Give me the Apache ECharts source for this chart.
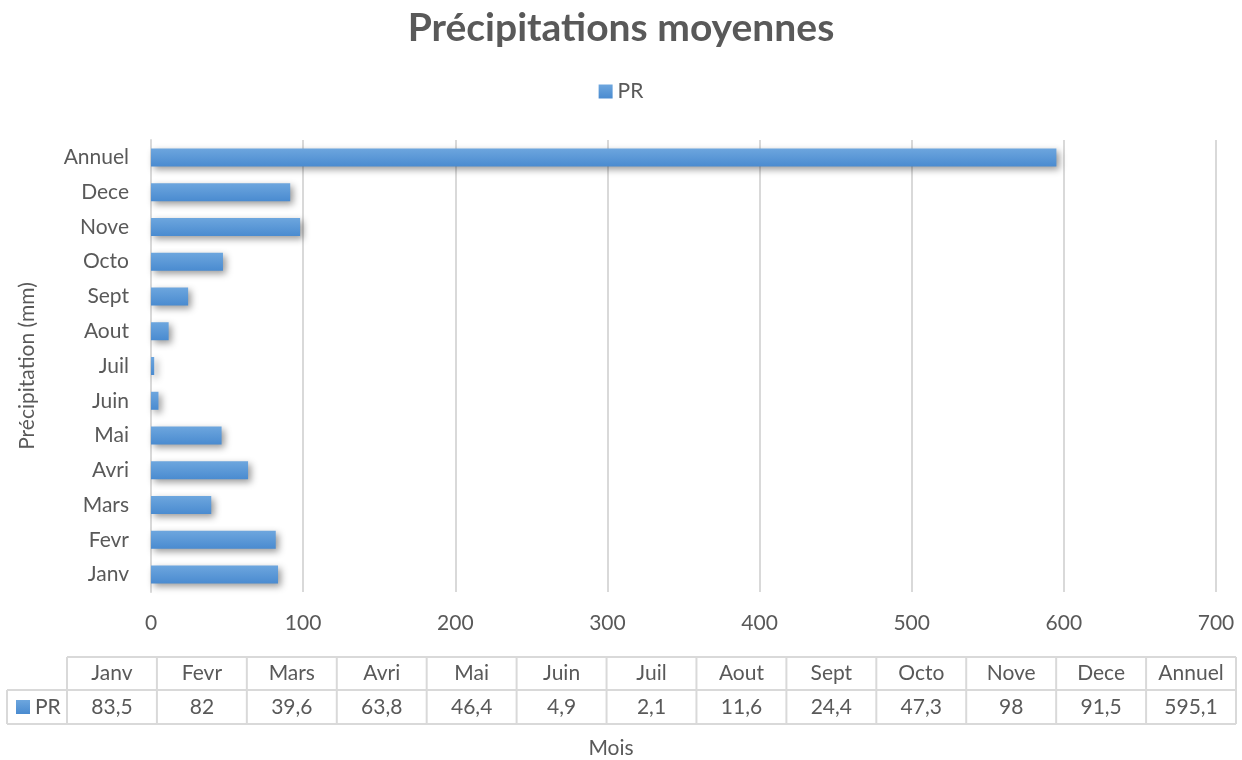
<!DOCTYPE html>
<html><head><meta charset="utf-8">
<script src="https://cdn.jsdelivr.net/npm/echarts@6/dist/echarts.min.js"></script>
<style>html,body{margin:0;padding:0;background:#fff}#c{width:1242px;height:760px}</style>
</head><body><div id="c"></div>
<script>
const categories = ['Janv','Fevr','Mars','Avri','Mai','Juin','Juil','Aout','Sept','Octo','Nove','Dece','Annuel'];
const prValues = [83.5, 82, 39.6, 63.8, 46.4, 4.9, 2.1, 11.6, 24.4, 47.3, 98, 91.5, 595.1];
const seriesName = 'PR';
const xTicks = [0,100,200,300,400,500,600,700];

const FONT = 'Lato, "Open Sans", sans-serif';
const FS = 21;
const TXT = '#595959';
const LINE = '#d9d9d9';
const barGrad = new echarts.graphic.LinearGradient(0,0,0,1,[{offset:0,color:'#6da6de'},{offset:1,color:'#4a8bd0'}]);

const chart = echarts.init(document.getElementById('c'));

// data table under the chart
const tblLeft = 67, tblRight = 1236, row1Top = 657, row1Bot = 690, row2Bot = 724, lblLeft = 7;
const colW = (tblRight - tblLeft) / categories.length;
const fmt = v => String(v).replace('.', ',');
const g = [];
g.push({type:'line', shape:{x1:tblLeft,y1:row1Top,x2:tblRight,y2:row1Top}, style:{stroke:LINE,lineWidth:2}});
g.push({type:'line', shape:{x1:lblLeft,y1:row1Bot,x2:tblRight,y2:row1Bot}, style:{stroke:LINE,lineWidth:2}});
g.push({type:'line', shape:{x1:lblLeft,y1:row2Bot,x2:tblRight,y2:row2Bot}, style:{stroke:LINE,lineWidth:2}});
g.push({type:'line', shape:{x1:lblLeft,y1:row1Bot,x2:lblLeft,y2:row2Bot}, style:{stroke:LINE,lineWidth:2}});
for (let i = 0; i <= categories.length; i++) {
  const x = tblLeft + i * colW;
  g.push({type:'line', shape:{x1:x,y1:row1Top,x2:x,y2:row2Bot}, style:{stroke:LINE,lineWidth:2}});
}
categories.forEach((c, i) => {
  const cx = tblLeft + (i + 0.5) * colW;
  g.push({type:'text', x:cx, y:(row1Top+row1Bot)/2, style:{text:c, font:FS+'px '+FONT, fill:TXT, textAlign:'center', textVerticalAlign:'middle'}});
  g.push({type:'text', x:cx, y:(row1Bot+row2Bot)/2, style:{text:fmt(prValues[i]), font:FS+'px '+FONT, fill:TXT, textAlign:'center', textVerticalAlign:'middle'}});
});
g.push({type:'rect', shape:{x:16,y:700,width:14,height:14}, style:{fill:barGrad}});
g.push({type:'text', x:35, y:(row1Bot+row2Bot)/2, style:{text:seriesName, font:FS+'px '+FONT, fill:TXT, textAlign:'left', textVerticalAlign:'middle'}});
g.push({type:'text', x:611, y:748, style:{text:'Mois', font:FS+'px '+FONT, fill:TXT, textAlign:'center', textVerticalAlign:'middle'}});

chart.setOption({
  animation:false,
  title:{text:'Précipitations moyennes', left:'center', top:4, textStyle:{fontFamily:FONT, fontSize:39, fontWeight:'bold', color:TXT}},
  legend:{data:[seriesName], top:76, left:'center', itemWidth:14, itemHeight:14, icon:'rect', itemGap:6,
    textStyle:{fontFamily:FONT, fontSize:FS, color:TXT}},
  grid:{left:151, right:26, top:140, bottom:168, containLabel:false},
  xAxis:{type:'value', min:0, max:700, interval:100,
    axisLine:{show:false}, axisTick:{show:false},
    axisLabel:{fontFamily:FONT, fontSize:FS, color:TXT, margin:21},
    splitLine:{lineStyle:{color:LINE, width:2}}},
  yAxis:{type:'category', data:categories, name:'Précipitation (mm)', nameLocation:'middle', nameGap:113,
    nameTextStyle:{fontFamily:FONT, fontSize:FS, color:TXT},
    axisLine:{show:true, lineStyle:{color:LINE, width:2}}, axisTick:{show:false},
    axisLabel:{fontFamily:FONT, fontSize:FS, color:TXT, margin:22}},
  series:[{name:seriesName, type:'bar', data:prValues, barWidth:18,
    itemStyle:{color:barGrad, shadowColor:'rgba(0,0,0,0.4)', shadowBlur:7, shadowOffsetX:3, shadowOffsetY:3}}],
  graphic:g
});
</script></body></html>
